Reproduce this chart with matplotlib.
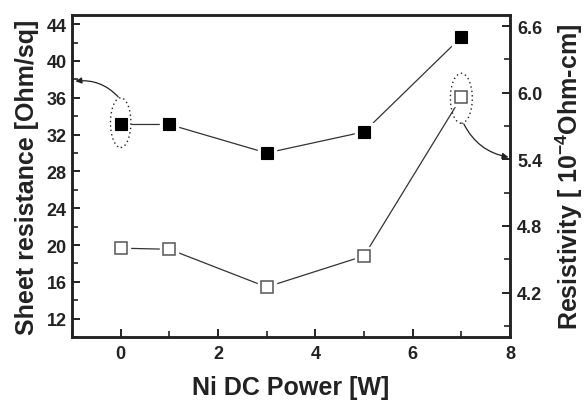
import matplotlib
matplotlib.use("Agg")
import matplotlib.pyplot as plt
from matplotlib.patches import Ellipse
from matplotlib.ticker import MultipleLocator, FixedLocator

plt.rcParams['font.family'] = ['Liberation Sans', 'DejaVu Sans']
plt.rcParams['font.weight'] = 'bold'
plt.rcParams['mathtext.fontset'] = 'custom'
plt.rcParams['mathtext.rm'] = 'Liberation Sans:bold'
plt.rcParams['mathtext.bf'] = 'Liberation Sans:bold'
plt.rcParams['mathtext.default'] = 'bf'

# Data
power = [0, 1, 3, 5, 7]
sheet_resistance = [33.1, 33.1, 30.0, 32.3, 42.6]
resistivity = [4.60, 4.59, 4.25, 4.53, 5.96]

x_label = "Ni DC Power [W]"
left_label = "Sheet resistance [Ohm/sq]"
right_label = "Resistivity [ 10$^{-4}$Ohm-cm]"

ink = "#222222"
line_c = "#333333"

fig = plt.figure(figsize=(5.84, 4.02), dpi=100)
ax = fig.add_axes([0.1233, 0.1592, 0.75, 0.8010])
ax2 = ax.twinx()

ax.set_xlim(-1, 8)
ax.set_ylim(10, 45)
ax2.set_ylim(3.8, 6.7)

# sheet resistance: filled squares, line stopped short of each marker
ax.plot(power, sheet_resistance, color=line_c, lw=0.9, zorder=2)
ax.plot(power, sheet_resistance, ls='none', marker='s', ms=13.5,
        mfc='white', mec='white', zorder=3)
ax.plot(power, sheet_resistance, ls='none', marker='s', ms=9,
        mfc='black', mec='black', mew=0.8, zorder=4)

# resistivity: open squares
ax2.plot(power, resistivity, color=line_c, lw=0.9, zorder=2)
ax2.plot(power, resistivity, ls='none', marker='s', ms=13.5,
         mfc='white', mec='white', zorder=3)
ax2.plot(power, resistivity, ls='none', marker='s', ms=8.5,
         mfc='white', mec='#555555', mew=1.1, zorder=4)

# dotted ellipses marking which series belongs to which axis
ax.add_patch(Ellipse((power[0], 33.3), 0.42, 5.4, fill=False, ec=ink,
                     lw=1.0, ls=(0, (1, 2.2)), zorder=5))
ax2.add_patch(Ellipse((power[4], 5.95), 0.45, 0.45, fill=False, ec=ink,
                      lw=1.0, ls=(0, (1, 2.2)), zorder=5))

arrow_kw = dict(arrowstyle='-|>', color=ink, lw=0.9, mutation_scale=9,
                shrinkA=0, shrinkB=0)
ax.annotate("", xy=(-0.93, 37.8), xytext=(-0.05, 36.1),
            arrowprops=dict(connectionstyle="arc3,rad=0.25", **arrow_kw),
            annotation_clip=False, zorder=6)
ax2.annotate("", xy=(7.97, 5.42), xytext=(7.05, 5.72),
             arrowprops=dict(connectionstyle="arc3,rad=0.25", **arrow_kw),
             annotation_clip=False, zorder=6)

# ticks
ax.xaxis.set_major_locator(MultipleLocator(2))
ax.xaxis.set_minor_locator(MultipleLocator(1))
ax.yaxis.set_major_locator(FixedLocator([12, 16, 20, 24, 28, 32, 36, 40, 44]))
ax.yaxis.set_minor_locator(FixedLocator([10, 14, 18, 22, 26, 30, 34, 38, 42]))
ax2.yaxis.set_major_locator(FixedLocator([4.2, 4.8, 5.4, 6.0, 6.6]))
ax2.yaxis.set_minor_locator(FixedLocator([3.9, 4.5, 5.1, 5.7, 6.3]))
ax2.set_yticklabels(["4.2", "4.8", "5.4", "6.0", "6.6"])

for a in (ax, ax2):
    for s in a.spines.values():
        s.set_linewidth(1.8)
        s.set_color(ink)
    a.tick_params(which='major', direction='in', length=6, width=1.4,
                  color=ink, labelsize=13, labelcolor=ink)
    a.tick_params(which='minor', direction='in', length=4, width=1.2, color=ink)

ax.tick_params(axis='x', which='both', top=False, pad=6)
ax.tick_params(axis='y', which='both', right=False, pad=4)
ax2.tick_params(axis='y', which='both', left=False, pad=5)

ax.set_xlabel(x_label, fontsize=18, fontweight='bold', color=ink, labelpad=9)
ax.set_ylabel(left_label, fontsize=18, fontweight='bold', color=ink, labelpad=5)
ax2.set_ylabel(right_label, fontsize=18, fontweight='bold', color=ink, labelpad=8)

fig.savefig("out.png", dpi=100)
